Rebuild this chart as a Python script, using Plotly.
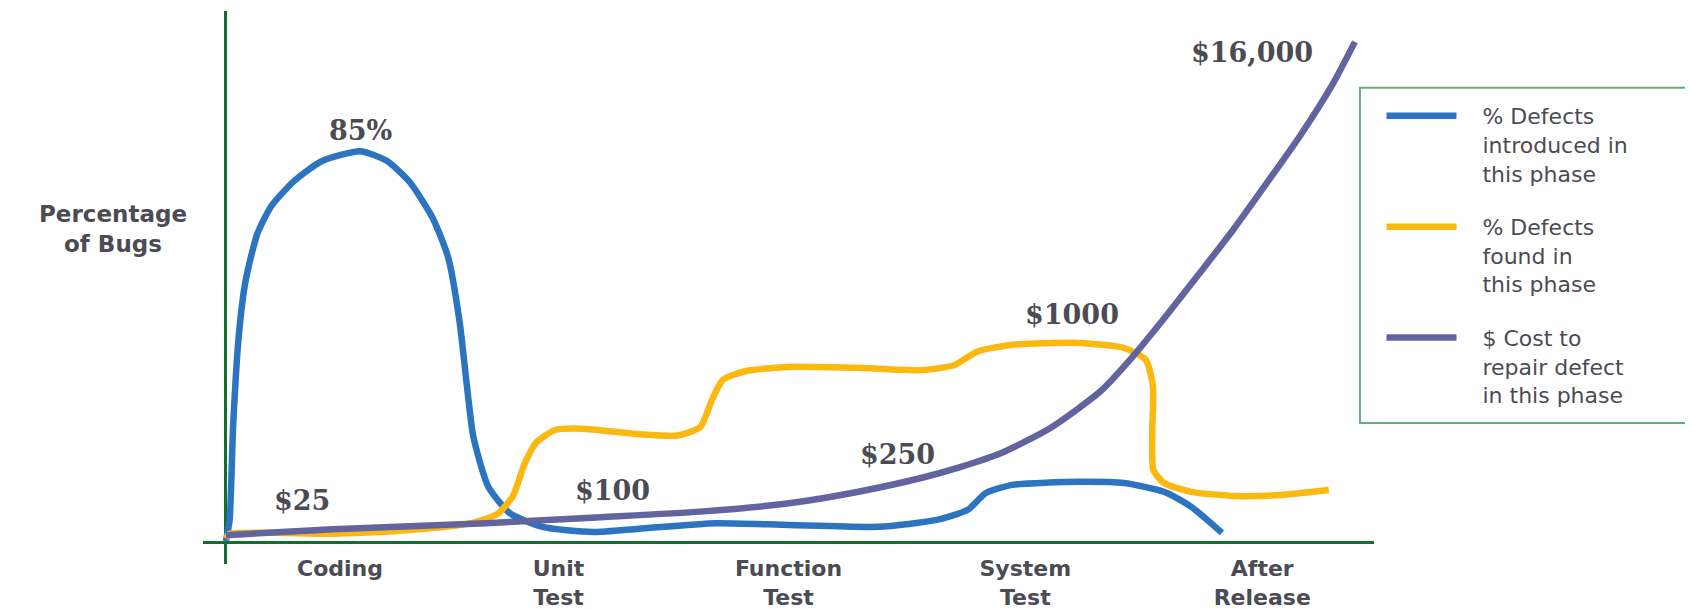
import plotly.graph_objects as go

# ---- data (x in phase units, y in relative % of bugs) ----
phases = ["Coding", "Unit<br>Test", "Function<br>Test", "System<br>Test", "After<br>Release"]
phase_pos = [0.5, 1.45, 2.45, 3.48, 4.51]

intro_x = [0.004, 0.02, 0.035, 0.06, 0.09, 0.14, 0.2, 0.3, 0.42, 0.587, 0.703, 0.803, 0.903,
           0.97, 1.02, 1.052, 1.08, 1.145, 1.24, 1.38, 1.6, 1.8, 2.135, 2.452, 2.842, 3.094,
           3.23, 3.307, 3.424, 3.715, 3.909, 4.083, 4.2, 4.335]
intro_y = [0.4, 5, 25, 45, 57, 67, 73, 78.5, 82.8, 85, 82.9, 78.3, 70.5,
           62.0, 48.0, 34.0, 23.0, 12.2, 6.4, 3.5, 2.4, 3.1, 4.3, 3.9, 3.5, 5.0,
           7.2, 10.8, 12.6, 13.3, 13.0, 11.1, 7.9, 2.2]

found_x = [0.004, 0.02, 0.47, 0.803, 1.07, 1.185, 1.252, 1.302, 1.352, 1.435, 1.551, 1.8,
           1.967, 2.067, 2.117, 2.165, 2.265, 2.452, 2.743, 3.035, 3.172, 3.27, 3.424,
           3.715, 3.909, 4.004, 4.035, 4.032, 4.037, 4.083, 4.2, 4.394, 4.587, 4.8]
found_y = [1.0, 2.0, 2.0, 2.8, 4.3, 6.3, 10.2, 17.1, 21.7, 24.5, 24.8, 23.6,
           23.3, 25.2, 31.0, 35.4, 37.3, 38.2, 38.0, 37.5, 38.6, 41.5, 43.0,
           43.4, 42.3, 39.7, 33.9, 24.5, 15.8, 13.0, 11.1, 10.2, 10.4, 11.5]

cost_x = [0.004, 0.47, 1.135, 1.635, 2.065, 2.452, 2.743, 3.035, 3.2, 3.37, 3.587, 3.804,
          3.948, 4.096, 4.239, 4.383, 4.53, 4.674, 4.817, 4.913]
cost_y = [1.7, 3.0, 4.3, 5.6, 6.8, 8.6, 11.0, 14.2, 16.5, 19.4, 24.9, 32.8,
          40.5, 49.5, 58.6, 67.9, 78.1, 88.3, 99.6, 108.7]

peak_label = "85%"
cost_labels = ["$25", "$100", "$250", "$1000", "$16,000"]
label_x = [0.335, 1.683, 2.922, 3.683, 4.465]
label_y = [9.3, 11.3, 19.1, 49.5, 106.3]

y_title = "Percentage<br>of Bugs"

names = ["% Defects<br>introduced in<br>this phase",
         "% Defects<br>found in<br>this phase",
         "$ Cost to<br>repair defect<br>in this phase"]
colors = ["#2C74C0", "#FBB810", "#62649F"]

TEXT = "#4B4B55"
GREEN = "#136D2E"
PAD = "&nbsp;&nbsp;&nbsp;"

fig = go.Figure()
for i, (xs, ys) in enumerate([(intro_x, intro_y), (found_x, found_y), (cost_x, cost_y)]):
    label = "<br>".join(PAD + part for part in names[i].split("<br>"))
    fig.add_trace(go.Scatter(
        x=xs, y=ys, mode="lines", name=label, legendgroup=str(i),
        line=dict(color=colors[i], width=6.5, shape="spline", smoothing=0.6),
        hoverinfo="skip"))

ann_font = dict(family="DejaVu Serif", size=27, color=TEXT, weight="bold")
annos = [dict(x=intro_x[intro_y.index(max(intro_y))], y=max(intro_y), text=peak_label,
              yshift=21, showarrow=False, font=ann_font)]
for t, lx, ly in zip(cost_labels, label_x, label_y):
    annos.append(dict(x=lx, y=ly, text=t, showarrow=False, font=ann_font))
annos.append(dict(xref="paper", yref="paper", x=-0.0769, y=0.606,
                  xanchor="center", yanchor="middle", text=y_title, showarrow=False,
                  align="center",
                  font=dict(family="DejaVu Sans", size=23, color=TEXT, weight="bold")))

fig.update_layout(
    width=1685, height=601, autosize=False,
    margin=dict(l=195, r=319, t=3, b=45),
    paper_bgcolor="white", plot_bgcolor="white",
    xaxis=dict(range=[-0.0957, 4.996], showgrid=False, zeroline=True, automargin=False,
               zerolinecolor=GREEN, zerolinewidth=3, showline=False,
               tickmode="array", tickvals=phase_pos, ticktext=phases, ticks="",
               ticklabelstandoff=-11,
               tickfont=dict(family="DejaVu Sans", size=22, color=TEXT, weight="bold")),
    yaxis=dict(range=[-4.56, 115.4], showgrid=False, zeroline=True, automargin=False,
               zerolinecolor=GREEN, zerolinewidth=3, showline=False,
               showticklabels=False, ticks=""),
    legend=dict(x=1.0064, y=0.848, xanchor="left", yanchor="top",
                bgcolor="rgba(0,0,0,0)", borderwidth=0, valign="top",
                itemwidth=70, tracegroupgap=22,
                font=dict(family="DejaVu Sans", size=22, color=TEXT)),
    annotations=annos,
    shapes=[dict(type="rect", xref="paper", yref="paper", x0=0.988, x1=1.35,
                 y0=0.255, y1=0.861, line=dict(color="#6AA982", width=2),
                 fillcolor="rgba(0,0,0,0)")],
)

fig.write_html("out.html")
